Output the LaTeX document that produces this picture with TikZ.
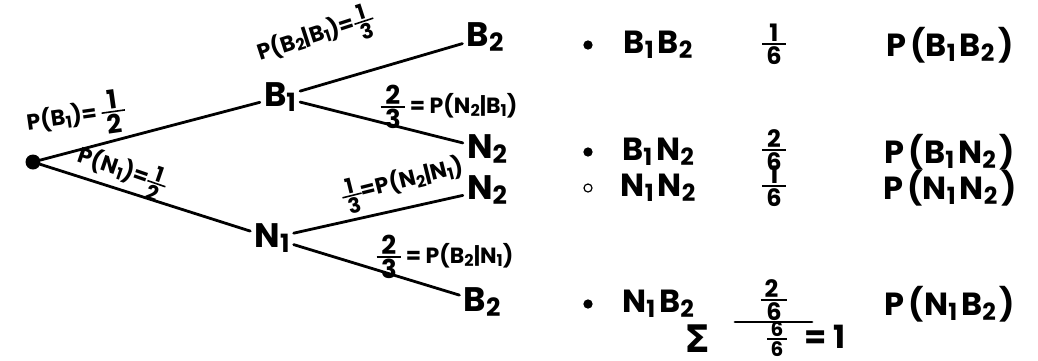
\documentclass[tikz,border=0pt]{standalone}
\usepackage{graphicx}
\usepackage{fontspec}
\setmainfont{Poppins}
\newfontfamily\sigmafont{DejaVu Sans}
\usetikzlibrary{positioning}
\newcommand{\frc}[3][26]{{\fontsize{#1}{#1}\selectfont\ensuremath{\vcenter{\offinterlineskip\halign{\hfil##\hfil\cr
  \,#2\,\cr\noalign{\kern1.6pt\hrule height 1.6pt\kern1.6pt}\,#3\,\cr}}}}}
\newcommand{\ssub}[1]{\raisebox{-0.28ex}{\scalebox{0.74}{#1}}}
\newcommand{\gap}{\hspace{4pt}}

\begin{document}
\begin{tikzpicture}[x=1pt, y=-1pt,
  leaf/.style={font=\fontsize{34}{40}\selectfont\bfseries, inner sep=4pt},
  branch/.style={line width=2.8pt, line cap=round},
  prob/.style={font=\fontsize{22}{24}\selectfont\bfseries, inner sep=0pt},
  pair/.style={font=\fontsize{32}{36}\selectfont\bfseries, inner sep=0pt},
  fracs/.style={font=\bfseries, inner sep=0pt},
  bullet/.style={circle, draw=black, line width=1.2pt, inner sep=0pt, minimum size=8pt},
]
  \useasboundingbox[fill=white] (0,0) rectangle (1038,360);

  % --- tree ---
  \node[circle, fill=black, inner sep=0pt, minimum size=15pt] (root) at (33,162) {};
  \node[leaf] (b1) at (280,97) {B\ssub{1}};
  \node[leaf] (n1) at (272,238) {N\ssub{1}};
  \node[leaf] (b2a) at (485,37) {B\ssub{2}};
  \node[leaf] (n2a) at (487,149) {N\ssub{2}};
  \node[leaf] (n2b) at (487,190) {N\ssub{2}};
  \node[leaf] (b2b) at (482,302) {B\ssub{2}};

  \draw[branch] (root) -- (b1);
  \draw[branch] (root) -- (n1);
  \draw[branch] (b1) -- (b2a);
  \draw[branch] (b1) -- (n2a);
  \draw[branch] (n1) -- (n2b);
  \draw[branch] (n1) -- (b2b);

  % branch probabilities
  \node[prob, rotate=8] (lb1) at (76,117) {P(B\ssub{1})= \frc{1}{2}};
  \node[prob, rotate=-19] (ln1) at (122,172) {P(N\ssub{1})=\frc[21]{1}{2}};
  \node[prob, rotate=18] (lb2b1) at (316,37) {P(B\ssub{2}|B\ssub{1})=\frc[21]{1}{3}};
  \node[prob] (ln2b1) at (449,107) {\frc{2}{3} = P(N\ssub{2}|B\ssub{1})};
  \node[prob, rotate=14] (ln2n1) at (403,183) {\frc[21]{1}{3}=P(N\ssub{2}|N\ssub{1})};
  \node[prob] (lb2n1) at (445,257) {\frc{2}{3} = P(B\ssub{2}|N\ssub{1})};

  % --- outcomes ---
  \foreach \i/\y/\fy/\fl/\txt/\nu in {
    1/45/44/black/{B\ssub{1}\gap B\ssub{2}}/1,
    2/152/150/black/{B\ssub{1}\gap N\ssub{2}}/2,
    3/188/186/white/{N\ssub{1}\gap N\ssub{2}}/1,
    4/304/300/black/{N\ssub{1}\gap B\ssub{2}}/2
  } {
    \node[bullet, fill=\fl] (bul\i) at (588,\y) {};
    \node[pair] (ev\i) at (658,\y) {\txt};
    \node[fracs] (fr\i) at (774,\fy) {\frc[24]{\nu}{6}};
    \node[pair] (pr\i) at (950,\y) {P\gap(\txt\gap)};
  }

  % sum
  \coordinate (sumL) at (735,322);
  \coordinate (sumR) at (812,322);
  \draw[branch] (sumL) -- (sumR);
  \node[font=\fontsize{38}{40}\selectfont\sigmafont\bfseries, inner sep=0pt] (sigma) at (697,339) {Σ};
  \node[fracs] (tot) at (777,339) {\frc[20]{6}{6}};
  \node[pair] (one) at (825,337) {= 1};
\end{tikzpicture}
\end{document}
